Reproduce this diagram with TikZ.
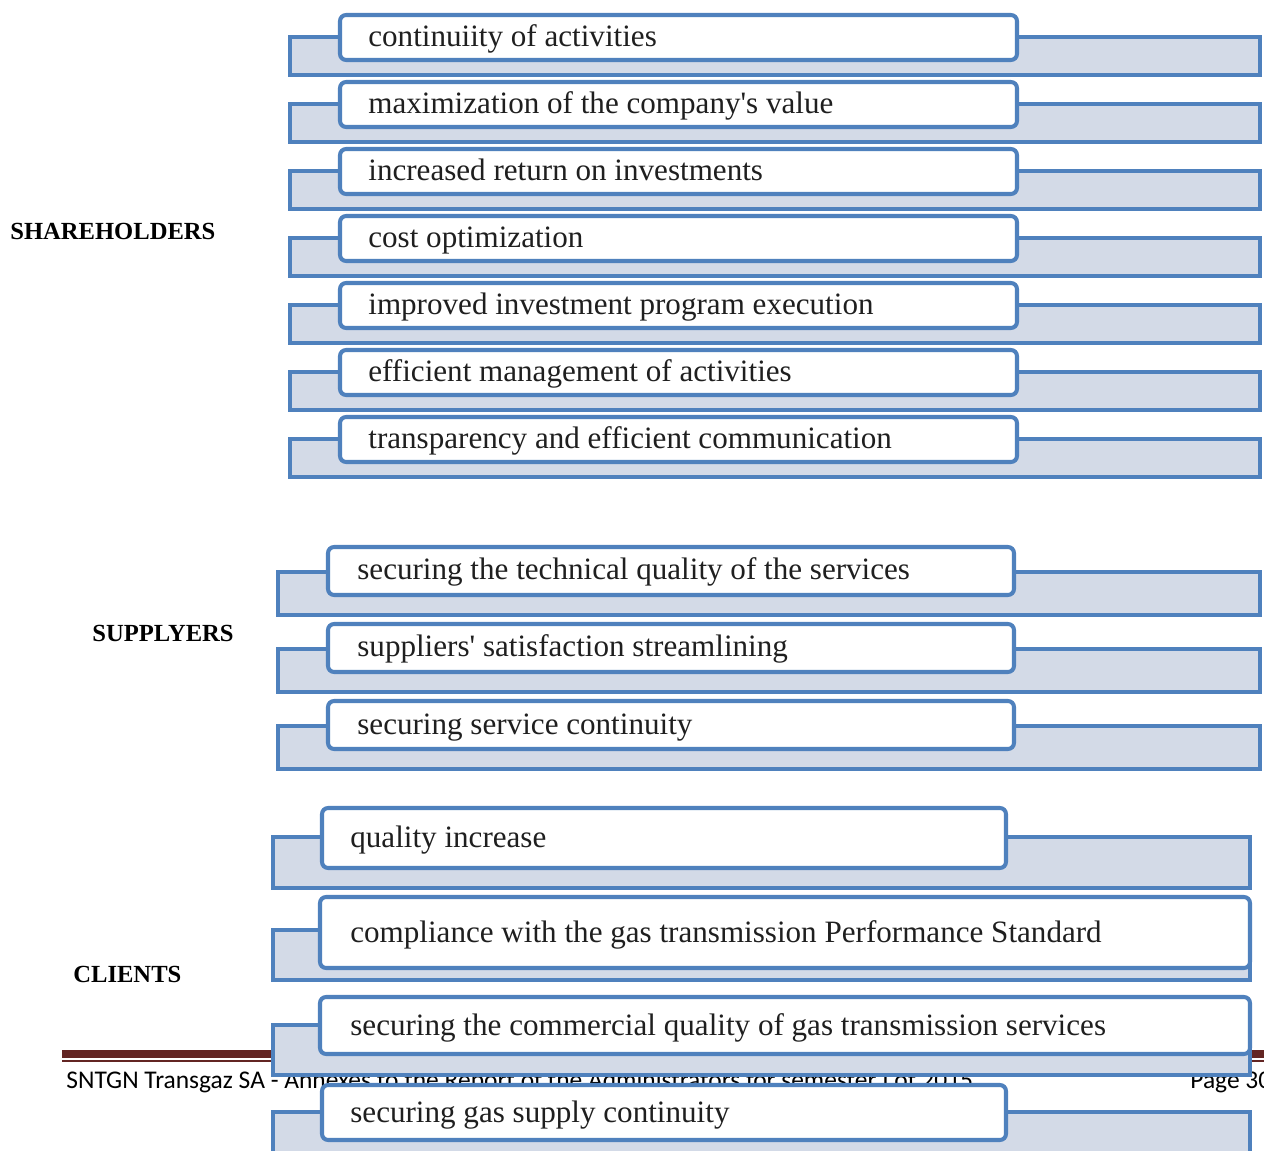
\documentclass[tikz,border=0pt]{standalone}
\usepackage{fontspec}
\setmainfont{Liberation Serif}
\newfontfamily\footfont{Carlito}

\begin{document}
\begin{tikzpicture}[x=0.02cm,y=-0.02cm,
  bar/.style={draw=boxblue,fill=barfill,line width=2.3pt},
  goal/.style={draw=boxblue,fill=white,line width=2.3pt,rounded corners=3.5pt},
  goaltext/.style={anchor=base west,inner sep=0pt,text=black!88,font=\fontsize{17.7}{21}\selectfont},
  groupname/.style={anchor=base west,inner sep=0pt,font=\fontsize{14}{17}\selectfont\bfseries},
  foot/.style={anchor=base west,inner sep=0pt,font=\footfont\fontsize{14.5}{17}\selectfont}]

\definecolor{boxblue}{HTML}{4F81BD}
\definecolor{barfill}{HTML}{D3DAE7}
\definecolor{footred}{HTML}{632523}

\useasboundingbox(0,0)rectangle(1264,1151);
\clip(0,0)rectangle(1264,1151);

% footer of the page, under the diagram
\fill[footred](62,1050)rectangle(1264,1058);
\fill[footred](62,1060)rectangle(1264,1062);
\node[foot](footleft) at (66,1088){SNTGN Transgaz SA - Annexes to the Report of the Administrators for semester I of 2015};
\node[foot](footright) at (1190,1088){Page 30};

% group names
\node[groupname](share) at (10,240){SHAREHOLDERS};
\node[groupname](suppl) at (92,642){SUPPLYERS};
\node[groupname](clien) at (73,982){CLIENTS};

% shareholders
\foreach \txt [count=\i from 0] in {continuiity of activities,
  maximization of the company\textquotesingle s value,
  increased return on investments,
  cost optimization,
  improved investment program execution,
  efficient management of activities,
  transparency and efficient communication}{
  \pgfmathsetmacro\yy{15+67*\i}
  \draw[bar](290,\yy+22)rectangle(1260,\yy+60);
  \draw[goal](340,\yy)rectangle(1017,\yy+45);
  \node[goaltext](sh\i) at (368,\yy+32){\txt};
}

% suppliers
\foreach \txt [count=\i from 0] in {securing the technical quality of the services,
  suppliers\textquotesingle{} satisfaction streamlining,
  securing service continuity}{
  \pgfmathsetmacro\yy{547+77*\i}
  \draw[bar](278,\yy+25)rectangle(1260,\yy+68);
  \draw[goal](328,\yy)rectangle(1014,\yy+48);
  \node[goaltext](su\i) at (357,\yy+33){\txt};
}

% clients
\foreach \wt/\wb/\wl/\wr/\bt/\bb/\txt [count=\i] in {
  808/868/322/1006/837/888/quality increase,
  897/968/320/1250/930/980/compliance with the gas transmission Performance Standard,
  997/1054/320/1250/1025/1075/securing the commercial quality of gas transmission services,
  1085/1140/322/1006/1112/1175/securing gas supply continuity}{
  \draw[bar](273,\bt)rectangle(1250,\bb);
  \draw[goal](\wl,\wt)rectangle(\wr,\wb);
  \node[goaltext](cl\i) at (350,{(\wt+\wb)/2+9.5}){\txt};
}

\end{tikzpicture}
\end{document}
